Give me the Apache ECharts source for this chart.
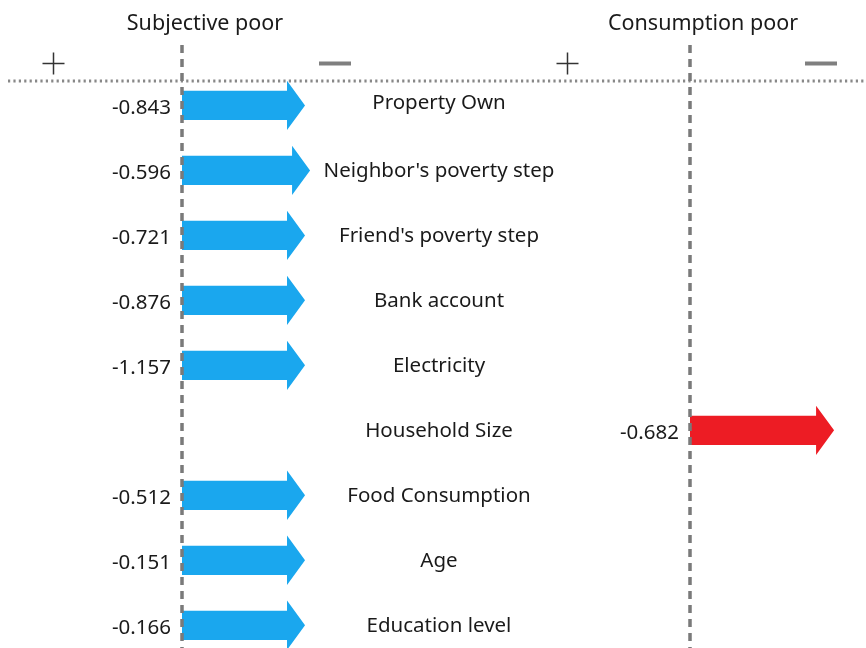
<!DOCTYPE html>
<html>
<head>
<meta charset="utf-8">
<script src="https://cdn.jsdelivr.net/npm/echarts@6/dist/echarts.min.js"></script>
<style>
  html, body { margin: 0; padding: 0; background: #fff; }
  #chart { width: 866px; height: 648px; }
</style>
</head>
<body>
<div id="chart"></div>
<script>
// rows, top to bottom
var factors = ['Property Own', "Neighbor's poverty step", "Friend's poverty step", 'Bank account',
    'Electricity', 'Household Size', 'Food Consumption', 'Age', 'Education level'];
// coefficients per panel (null = not significant)
var subjectivePoor = [-0.843, -0.596, -0.721, -0.876, -1.157, null, -0.512, -0.151, -0.166];
var consumptionPoor = [null, null, null, null, null, -0.682, null, null, null];
// drawn arrow lengths (axis units)
var subjectiveLen = [0.707, 0.736, 0.707, 0.707, 0.707, null, 0.707, 0.707, 0.707];
var consumptionLen = [null, null, null, null, null, 0.828, null, null, null];

var panelTitles = ['Subjective poor', 'Consumption poor'];

var FONT = '"Noto Sans", sans-serif';
var TEXT_COLOR = '#1a1a1a';

function toData(vals, lens) {
    var out = [];
    vals.forEach(function (v, i) {
        if (v !== null) out.push([lens[i], i, v]);
    });
    return out;
}

function arrowRender(color) {
    return function (params, api) {
        var len = api.value(0);
        var row = api.value(1);
        var start = api.coord([0, row]);
        var end = api.coord([len, row]);
        var unit = api.size([0, 1])[1];
        var bh = unit * 0.225;
        var hh = unit * 0.38;
        var headLen = 18;
        var hx = end[0] - headLen;
        var y = start[1];
        return {
            type: 'group',
            children: [{
                type: 'polygon',
                shape: {
                    points: [
                        [start[0], y - bh], [hx, y - bh], [hx, y - hh], [end[0], y],
                        [hx, y + hh], [hx, y + bh], [start[0], y + bh]
                    ]
                },
                style: { fill: color }
            }, {
                type: 'text',
                x: start[0] - 11,
                y: y + 3,
                style: {
                    text: api.value(2).toFixed(3),
                    align: 'right',
                    verticalAlign: 'middle',
                    font: '20.5px ' + FONT,
                    fill: TEXT_COLOR
                }
            }]
        };
    };
}

// first label sits a little above its arrow in the original
var labelShift = [-3];

function labelRender(params, api) {
    var row = api.value(1);
    var p = api.coord([0, row]);
    return {
        type: 'text',
        x: p[0],
        y: p[1] + 1 + (labelShift[row] || 0),
        style: {
            text: factors[row],
            align: 'center',
            verticalAlign: 'middle',
            font: '20.5px ' + FONT,
            fill: TEXT_COLOR
        }
    };
}

var zeroLine = {
    silent: true,
    symbol: ['none', 'none'],
    label: { show: false },
    lineStyle: { color: '#7a7a7a', type: [8, 6], width: 3.5 },
    data: [{ xAxis: 0 }]
};

var yCommon = { type: 'value', inverse: true, min: -0.93, max: 8.35, show: false };
var xCommon = { type: 'value', min: -1, max: 1, show: false };

function plusSign(cx, cy) {
    return {
        type: 'group',
        children: [
            { type: 'line', shape: { x1: cx - 11, y1: cy, x2: cx + 11, y2: cy }, style: { stroke: '#333', lineWidth: 1.5 } },
            { type: 'line', shape: { x1: cx, y1: cy - 11, x2: cx, y2: cy + 11 }, style: { stroke: '#333', lineWidth: 1.5 } }
        ]
    };
}
function minusSign(cx, cy) {
    return { type: 'rect', shape: { x: cx - 16, y: cy - 2, width: 32, height: 4 }, style: { fill: '#7f7f7f' } };
}

var chart = echarts.init(document.getElementById('chart'));
chart.setOption({
    animation: false,
    backgroundColor: '#fff',
    grid: [
        { left: 8, width: 348, top: 45, bottom: 0 },
        { left: 516, width: 348, top: 45, bottom: 0 },
        { left: 356, width: 166, top: 45, bottom: 0 }
    ],
    xAxis: [
        Object.assign({ gridIndex: 0 }, xCommon),
        Object.assign({ gridIndex: 1 }, xCommon),
        Object.assign({ gridIndex: 2 }, xCommon)
    ],
    yAxis: [
        Object.assign({ gridIndex: 0 }, yCommon),
        Object.assign({ gridIndex: 1 }, yCommon),
        Object.assign({ gridIndex: 2 }, yCommon)
    ],
    graphic: [
        { type: 'text', x: 205, y: 24, style: { text: panelTitles[0], align: 'center', verticalAlign: 'middle', font: '21.5px ' + FONT, fill: TEXT_COLOR } },
        { type: 'text', x: 703, y: 24, style: { text: panelTitles[1], align: 'center', verticalAlign: 'middle', font: '21.5px ' + FONT, fill: TEXT_COLOR } },
        plusSign(53.5, 63.5),
        minusSign(335, 63.5),
        plusSign(567.5, 63.5),
        minusSign(821, 63.5),
        {
            type: 'line',
            shape: { x1: 8, y1: 81, x2: 866, y2: 81 },
            style: { stroke: '#888', lineWidth: 3, lineDash: [2.2, 3.2] }
        }
    ],
    series: [
        {
            type: 'custom',
            xAxisIndex: 0, yAxisIndex: 0,
            renderItem: arrowRender('#1aa7ee'),
            data: toData(subjectivePoor, subjectiveLen),
            markLine: zeroLine,
            z: 3
        },
        {
            type: 'custom',
            xAxisIndex: 1, yAxisIndex: 1,
            renderItem: arrowRender('#ed1c24'),
            data: toData(consumptionPoor, consumptionLen),
            markLine: zeroLine,
            z: 3
        },
        {
            type: 'custom',
            xAxisIndex: 2, yAxisIndex: 2,
            renderItem: labelRender,
            data: factors.map(function (f, i) { return [0, i]; })
        }
    ]
});
</script>
</body>
</html>
